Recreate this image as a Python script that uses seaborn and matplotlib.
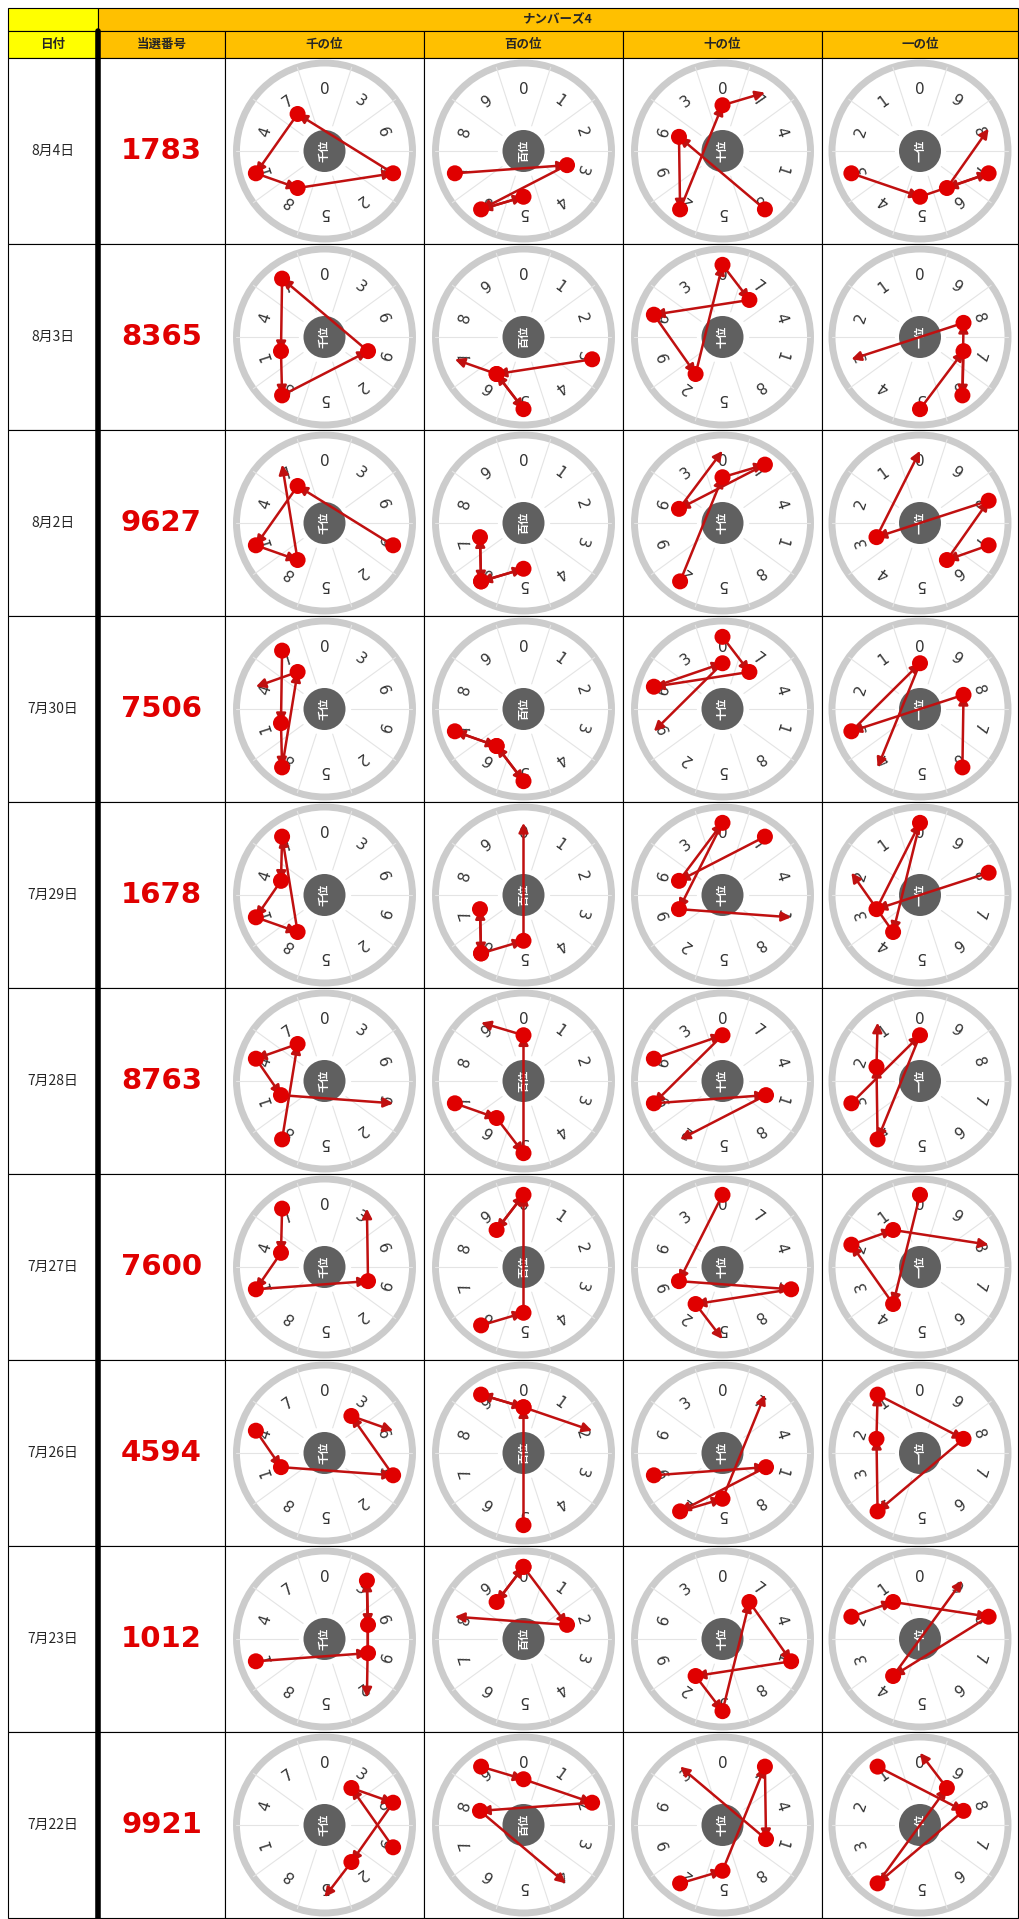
import numpy as np
import matplotlib.pyplot as plt
import seaborn as sns
from matplotlib.patches import Circle, Rectangle

sns.set_theme(style="white")
plt.rcParams['font.family'] = ['Noto Sans CJK JP', 'DejaVu Sans']

# ------ données ------
dates = ["8月4日", "8月3日", "8月2日", "7月30日", "7月29日",
         "7月28日", "7月27日", "7月26日", "7月23日", "7月22日"]
numbers = ["1783", "8365", "9627", "7506", "1678",
           "8763", "7600", "4594", "1012", "9921"]
# tirages plus anciens (estimés) pour compléter les trajets
older = ["3058", "6274", "2819", "5430"]
col_titles = ["千の位", "百の位", "十の位", "一の位"]
center_labels = ["千位", "百位", "十位", "一位"]
wheel_steps = [3, 1, 7, 9]   # ordre des chiffres autour de chaque roue
path_len = 5

# ------ mise en page (pixels) ------
W, H = 1019, 1919
col_x = [8, 98, 225, 424, 623, 822, 1018]
y_top, y_h1, y_h2 = 8, 31, 58
row_h = 186
orange = "#ffc000"
yellow = "#ffff00"
red = "#e00000"
dark_red = "#c01010"

fig = plt.figure(figsize=(W / 100, H / 100), dpi=100)
ax = fig.add_axes([0, 0, 1, 1])
ax.set_xlim(0, W)
ax.set_ylim(H, 0)
ax.set_aspect('equal')
ax.axis('off')

# --- en-têtes ---
ax.add_patch(Rectangle((col_x[0], y_top), col_x[1] - col_x[0], y_h1 - y_top, fc=yellow, ec='black', lw=0.8))
ax.add_patch(Rectangle((col_x[1], y_top), col_x[-1] - col_x[1], y_h1 - y_top, fc=orange, ec='black', lw=0.8))
ax.text((col_x[1] + col_x[-1]) / 2, (y_top + y_h1) / 2, "ナンバーズ4", ha='center', va='center', fontsize=9, fontweight='bold')
heads = ["日付", "当選番号"] + col_titles
for i, h in enumerate(heads):
    ax.add_patch(Rectangle((col_x[i], y_h1), col_x[i + 1] - col_x[i], y_h2 - y_h1,
                           fc=yellow if i == 0 else orange, ec='black', lw=0.8))
    ax.text((col_x[i] + col_x[i + 1]) / 2, (y_h1 + y_h2) / 2, h, ha='center', va='center', fontsize=9, fontweight='bold')

all_draws = numbers + older

# --- lignes ---
for r in range(len(dates)):
    y0 = y_h2 + r * row_h
    for i in range(6):
        ax.add_patch(Rectangle((col_x[i], y0), col_x[i + 1] - col_x[i], row_h, fc='white', ec='black', lw=0.8))
    yc = y0 + row_h / 2
    ax.text((col_x[0] + col_x[1]) / 2, yc, dates[r], ha='center', va='center', fontsize=10)
    ax.text((col_x[1] + col_x[2]) / 2, yc, numbers[r], ha='center', va='center',
            fontsize=21, fontweight='bold', color=red, family='DejaVu Sans')

    for c in range(4):
        xc = (col_x[c + 2] + col_x[c + 3]) / 2
        R = 88
        step = wheel_steps[c]
        order = [(k * step) % 10 for k in range(10)]
        ax.add_patch(Circle((xc, yc), R, fc='white', ec='#cccccc', lw=5, zorder=2))
        for k in range(10):
            a = np.pi / 2 - (k + 0.5) * 2 * np.pi / 10
            ax.plot([xc + 0.3 * R * np.cos(a), xc + R * np.cos(a)],
                    [yc - 0.3 * R * np.sin(a), yc - R * np.sin(a)], color='#e4e4e4', lw=0.8, zorder=3)
            a2 = np.pi / 2 - k * 2 * np.pi / 10
            ax.text(xc + 0.7 * R * np.cos(a2), yc - 0.7 * R * np.sin(a2), str(order[k]),
                    ha='center', va='center', fontsize=11, color='#333333', family='DejaVu Sans',
                    rotation=np.degrees(a2) - 90, zorder=3)
        ax.add_patch(Circle((xc, yc), 21, fc='#606060', ec='none', zorder=4))
        ax.text(xc, yc, center_labels[c], ha='center', va='center', fontsize=8,
                color='white', fontweight='bold', rotation=90, zorder=5)

        # trajet des chiffres sur les tirages récents
        digits = [int(all_draws[r + j][c]) for j in range(path_len)]
        pts = []
        for j, d in enumerate(digits):
            k = order.index(d)
            a2 = np.pi / 2 - k * 2 * np.pi / 10
            rr = R * (0.82 if j % 2 == 0 else 0.52)
            pts.append((xc + rr * np.cos(a2), yc - rr * np.sin(a2)))
        for j in range(path_len - 1):
            (x1, y1), (x2, y2) = pts[j], pts[j + 1]
            ax.annotate("", xy=(x2, y2), xytext=(x1, y1),
                        arrowprops=dict(arrowstyle='-|>', color=dark_red, lw=1.8,
                                        mutation_scale=14, shrinkA=0, shrinkB=0), zorder=6)
        for j in range(path_len - 1):
            ax.add_patch(Circle(pts[j], 8, fc=red, ec='none', zorder=7))

# trait épais séparateur
ax.plot([col_x[1], col_x[1]], [y_h1, H], color='black', lw=4, zorder=8)

fig.savefig("out.png", dpi=100, facecolor='white')
